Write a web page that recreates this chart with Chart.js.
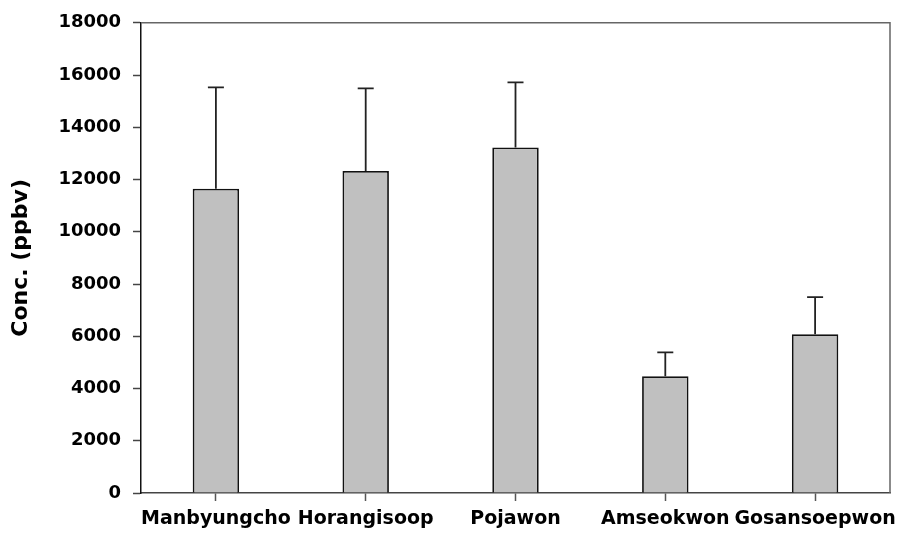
<!DOCTYPE html>
<html>
<head>
<meta charset="utf-8">
<script src="https://cdn.jsdelivr.net/npm/chart.js@4/dist/chart.umd.min.js"></script>
<style>
    html, body { margin: 0; padding: 0; background: #fff; }
    #wrap { width: 906px; height: 536px; }
</style>
</head>
<body>
<div id="wrap"><canvas id="chart" width="906" height="536"></canvas></div>
<script>
const sites = ['Manbyungcho', 'Horangisoop', 'Pojawon', 'Amseokwon', 'Gosansoepwon']
const conc = [11650, 12330, 13230, 4470, 6080]
const concErr = [3880, 3160, 2490, 910, 1420]
const yTicks = [0, 2000, 4000, 6000, 8000, 10000, 12000, 14000, 16000, 18000]

const font = 'DejaVu Sans'

// upper error bars drawn through the y scale
const errorBars = {
    id: 'errorBars',
    afterDatasetsDraw(chart) {
        const ctx = chart.ctx
        const y = chart.scales.y
        const meta = chart.getDatasetMeta(0)
        ctx.save()
        ctx.strokeStyle = '#222'
        ctx.lineWidth = 1.8
        meta.data.forEach((bar, i) => {
            const top = y.getPixelForValue(conc[i] + concErr[i])
            ctx.beginPath()
            ctx.moveTo(bar.x, bar.y)
            ctx.lineTo(bar.x, top)
            ctx.moveTo(bar.x - 8, top)
            ctx.lineTo(bar.x + 8, top)
            ctx.stroke()
        })
        ctx.restore()
    },
}

// top and right frame lines
const frame = {
    id: 'frame',
    afterDraw(chart) {
        const { left, right, top, bottom } = chart.chartArea
        const ctx = chart.ctx
        ctx.save()
        ctx.strokeStyle = '#666'
        ctx.lineWidth = 1.5
        ctx.beginPath()
        ctx.moveTo(left, top)
        ctx.lineTo(right, top)
        ctx.lineTo(right, bottom)
        ctx.stroke()
        ctx.restore()
    },
}

new Chart(document.getElementById('chart'), {
    type: 'bar',
    data: {
        labels: sites,
        datasets: [
            {
                data: conc,
                backgroundColor: '#c0c0c0',
                borderColor: '#111',
                borderWidth: 1.8,
                categoryPercentage: 1,
                barPercentage: 0.31,
            },
        ],
    },
    options: {
        responsive: false,
        animation: false,
        layout: { padding: { top: 20, right: 16, left: 0, bottom: 0 } },
        plugins: { legend: { display: false }, tooltip: { enabled: false } },
        scales: {
            x: {
                offset: true,
                grid: {
                    offset: false,
                    drawOnChartArea: false,
                    tickLength: 8,
                    tickColor: '#555',
                    tickWidth: 1.5,
                },
                border: { color: '#444', width: 1.5 },
                ticks: {
                    autoSkip: false,
                    maxRotation: 0,
                    minRotation: 0,
                    padding: 7,
                    color: '#000',
                    font: { family: font, size: 19, weight: 'bold' },
                },
                afterFit(scale) { scale.height = 43 },
            },
            y: {
                min: 0,
                max: 18000,
                grid: {
                    drawOnChartArea: false,
                    tickLength: 8,
                    tickColor: '#444',
                    tickWidth: 1.5,
                },
                border: { color: '#111', width: 1.5 },
                afterBuildTicks(scale) {
                    scale.ticks = yTicks.map(v => ({ value: v }))
                },
                ticks: {
                    padding: 12,
                    color: '#000',
                    font: { family: font, size: 18, weight: 'bold' },
                    callback: v => String(v),
                },
                title: {
                    display: true,
                    text: 'Conc. (ppbv)',
                    color: '#000',
                    font: { family: font, size: 22, weight: 'bold' },
                    padding: { top: 8, bottom: 0 },
                },
                afterFit(scale) { scale.width = 141 },
            },
        },
    },
    plugins: [errorBars, frame],
})
</script>
</body>
</html>
